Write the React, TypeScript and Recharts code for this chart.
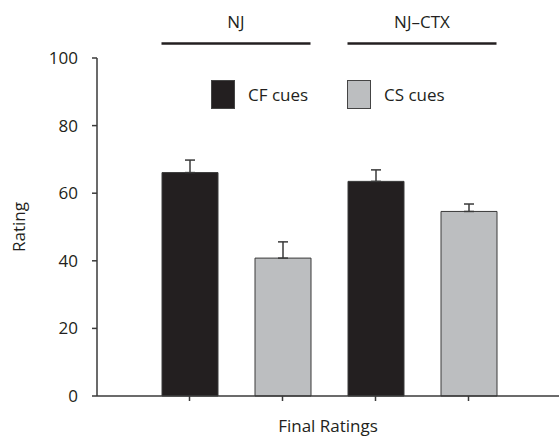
import React from 'react';
import { BarChart, Bar, XAxis, YAxis, Cell, ErrorBar, Legend } from 'recharts';

const groups = ['NJ', 'NJ\u2013CTX'];
const seriesNames = ['CF cues', 'CS cues'];
const cfMeans = [66.1, 63.5];
const csMeans = [40.8, 54.6];
const cfErrors = [3.7, 3.4];
const csErrors = [4.8, 2.2];
const seriesColors = ['#231f20', '#bcbec0'];
const yTicks = [0, 20, 40, 60, 80, 100];

const W = 559;
const H = 436;
const LEFT = 97;
const PAD_L = 46;
const PAD_R = 44;
const BAR = 56;
const STEP = (W - LEFT - PAD_L - PAD_R) / 4;
const FONT = '"Open Sans", sans-serif';
const FS = 17;
const AXIS = '#3a3a3a';

const data = groups.flatMap((g, gi) => [
  { key: `${g}|${seriesNames[0]}`, group: g, series: 0, value: cfMeans[gi], err: [0, cfErrors[gi]] },
  { key: `${g}|${seriesNames[1]}`, group: g, series: 1, value: csMeans[gi], err: [0, csErrors[gi]] },
]);

const GroupTick = (props: any) => {
  const { x, payload } = props;
  const row = data.find((d) => d.key === payload.value);
  if (!row || row.series !== 0) return null;
  const x1 = x - BAR / 2;
  const x2 = x + STEP + BAR / 2;
  return (
    <g>
      <text x={x + STEP / 2} y={21} textAnchor="middle" dominantBaseline="central" fontFamily={FONT} fontSize={FS} fill="#231f20">
        {row.group}
      </text>
      <line x1={x1} x2={x2} y1={43.5} y2={43.5} stroke="#231f20" strokeWidth={2.5} />
    </g>
  );
};

const LegendContent = () => (
  <div style={{ display: 'flex', fontFamily: FONT, fontSize: FS, color: '#231f20' }}>
    {seriesNames.map((n, i) => (
      <div key={n} style={{ display: 'flex', alignItems: 'center', width: 136 }}>
        <div style={{ width: 22, height: 27, background: seriesColors[i], border: '1px solid #444' }} />
        <span style={{ marginLeft: 13 }}>{n}</span>
      </div>
    ))}
  </div>
);

export default function App() {
  return (
    <div style={{ position: 'absolute', left: 0, top: 0, background: '#fff' }}>
      <BarChart width={W} height={H} data={data} margin={{ top: 0, right: 0, bottom: 0, left: 0 }}>
        <XAxis
          xAxisId="top"
          orientation="top"
          dataKey="key"
          height={58}
          padding={{ left: PAD_L, right: PAD_R }}
          axisLine={false}
          tickLine={false}
          tick={<GroupTick />}
          interval={0}
        />
        <XAxis
          dataKey="key"
          height={40}
          padding={{ left: PAD_L, right: PAD_R }}
          stroke={AXIS}
          strokeWidth={1.5}
          tickSize={5}
          tickFormatter={() => ''}
          interval={0}
          label={{ value: 'Final Ratings', position: 'insideBottom', offset: 4, style: { fontFamily: FONT, fontSize: FS, fill: '#231f20' } }}
        />
        <YAxis
          width={LEFT}
          domain={[0, 100]}
          ticks={yTicks}
          interval={0}
          stroke={AXIS}
          strokeWidth={1.5}
          tickSize={5}
          tickMargin={14}
          tick={{ fontFamily: FONT, fontSize: FS, fill: '#231f20' }}
          label={{ value: 'Rating', angle: -90, position: 'insideLeft', offset: 19, style: { fontFamily: FONT, fontSize: FS, fill: '#231f20', textAnchor: 'middle' } }}
        />
        <Legend
          content={<LegendContent />}
          layout="horizontal"
          verticalAlign="middle"
          align="center"
          wrapperStyle={{ position: 'absolute', top: 80, left: 211, width: 'auto', height: 'auto' }}
        />
        <Bar dataKey="value" barSize={BAR} stroke="#3a3a3a" strokeWidth={1} isAnimationActive={false}>
          {data.map((d) => (
            <Cell key={d.key} fill={seriesColors[d.series]} />
          ))}
          <ErrorBar dataKey="err" width={5} stroke="#3a3a3a" strokeWidth={1.5} isAnimationActive={false} />
        </Bar>
      </BarChart>
    </div>
  );
}
